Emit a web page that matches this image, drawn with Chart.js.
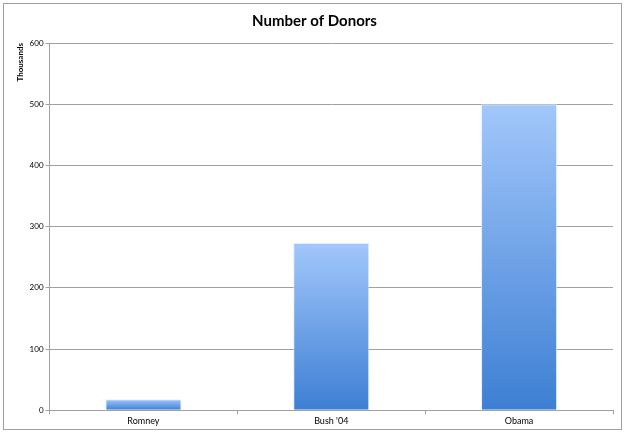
<!DOCTYPE html>
<html><head><meta charset="utf-8">
<script src="https://cdn.jsdelivr.net/npm/chart.js@4"></script>
<style>html,body{margin:0;padding:0;background:#fff;}#wrap{width:625px;height:433px;position:relative;}</style>
</head><body><div id="wrap"><canvas id="c" width="625" height="433"></canvas></div>
<script>
const categories = ["Romney", "Bush '04", "Obama"];
const donors = [18, 273, 500];
const yTicks = [0, 100, 200, 300, 400, 500, 600];

const frame = {
  id: 'frame',
  beforeDraw(chart) {
    const ctx = chart.ctx;
    ctx.save();
    ctx.fillStyle = '#fff';
    ctx.fillRect(0, 0, chart.width, chart.height);
    ctx.strokeStyle = '#a0a0a0';
    ctx.lineWidth = 1;
    ctx.strokeRect(3.5, 3.5, chart.width - 7, chart.height - 7);
    ctx.restore();
  }
};

function barGradient(context) {
  const chart = context.chart;
  const area = chart.chartArea;
  if (!area || context.type !== 'data') return '#6fa3ec';
  const y = chart.scales.y;
  const top = y.getPixelForValue(context.raw);
  const bottom = y.getPixelForValue(0);
  if (!isFinite(top) || bottom - top < 1) return '#6fa3ec';
  const g = chart.ctx.createLinearGradient(0, top, 0, bottom);
  g.addColorStop(0, '#a2c7fb');
  g.addColorStop(1, '#3d7fd3');
  return g;
}

new Chart(document.getElementById('c'), {
  type: 'bar',
  data: {
    labels: categories,
    datasets: [{
      data: donors,
      backgroundColor: barGradient,
      borderColor: 'rgba(220,235,255,0.8)',
      borderWidth: 1,
      categoryPercentage: 1.0,
      barPercentage: 0.405
    }]
  },
  plugins: [frame],
  options: {
    responsive: false,
    animation: false,
    devicePixelRatio: 1,
    layout: { padding: { left: 16, right: 12, top: 4, bottom: 6 } },
    plugins: {
      legend: { display: false },
      tooltip: { enabled: false },
      title: {
        display: true,
        text: 'Number of Donors',
        color: '#000',
        font: { family: 'Lato', size: 15, weight: 'bold' },
        padding: { top: 8, bottom: 13 }
      }
    },
    scales: {
      x: {
        offset: true,
        grid: { display: true, offset: true, drawOnChartArea: false, drawTicks: true, tickLength: 4, color: '#a0a0a0' },
        border: { color: '#a0a0a0' },
        ticks: { color: '#000', font: { family: 'Lato', size: 9 }, padding: 1 }
      },
      y: {
        min: 0, max: 600,
        afterBuildTicks(scale) { scale.ticks = yTicks.map(v => ({ value: v })); },
        grid: { color: '#a0a0a0', tickLength: 4 },
        border: { color: '#a0a0a0' },
        ticks: { color: '#000', font: { family: 'Lato', size: 8 }, padding: 2 },
        title: { display: true, text: 'Thousands', align: 'end', color: '#000', font: { family: 'Lato', size: 8, weight: 'bold' }, padding: { top: 0, bottom: 2 } }
      }
    }
  }
});
</script></body></html>
